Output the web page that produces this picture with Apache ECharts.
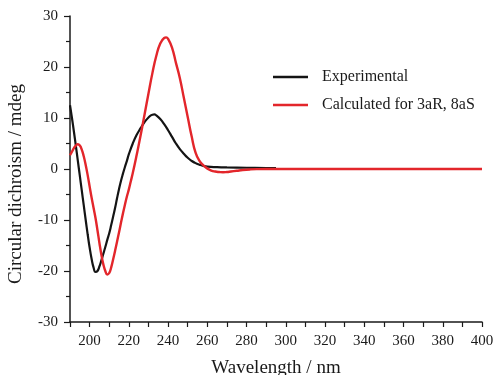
<!DOCTYPE html>
<html>
<head>
<meta charset="utf-8">
<script src="https://cdn.jsdelivr.net/npm/echarts@6/dist/echarts.min.js"></script>
<style>
html,body{margin:0;padding:0;background:#fff;}
#chart{width:496px;height:375px;}
</style>
</head>
<body>
<div id="chart"></div>
<script>
var seriesNames = ['Experimental', 'Calculated for 3aR, 8aS'];

var expWavelength = [190,191,192,193,194,195,196,197,198,199,200,201,202,203,204,205,206,207,208,209,210,211,212,213,214,215,216,217,218,219,220,222,224,226,228,230,232,233,234,236,238,240,242,244,246,248,250,252,254,256,258,260,265,270,280,290,295];
var expValues = [12.5,10.0,7.3,4.5,1.6,-1.3,-4.2,-7.1,-10.0,-12.8,-15.4,-17.6,-19.3,-20.2,-20.0,-19.1,-17.9,-16.6,-15.3,-13.9,-12.6,-11.0,-9.3,-7.6,-5.7,-3.9,-2.3,-0.9,0.4,1.6,2.9,5.0,6.7,8.0,9.2,10.1,10.65,10.7,10.5,9.8,8.8,7.6,6.3,5.0,3.9,3.0,2.2,1.6,1.15,0.85,0.6,0.45,0.35,0.3,0.25,0.2,0.2];

var calcWavelength = [190,191,192,193,194,195,196,197,198,199,200,201,202,203,204,205,206,207,208,209,210,211,212,213,214,215,216,217,218,219,220,221,222,224,226,228,230,232,234,236,238,239,240,242,244,246,248,250,252,254,256,258,260,262,264,266,268,270,272,275,278,282,286,290,300,350,400];
var calcValues = [2.7,3.4,4.1,4.6,4.85,4.6,3.8,2.5,0.8,-1.2,-3.4,-5.6,-7.6,-9.6,-12.0,-14.5,-16.8,-18.7,-20.0,-20.7,-20.4,-19.3,-17.7,-16.0,-14.2,-12.4,-10.5,-8.7,-7.0,-5.4,-4.0,-2.4,-0.8,2.8,6.6,10.7,14.8,18.8,22.2,24.6,25.7,25.8,25.5,23.8,20.8,17.8,14.0,10.2,6.4,3.2,1.6,0.7,0.1,-0.3,-0.5,-0.6,-0.65,-0.6,-0.5,-0.35,-0.2,-0.08,-0.02,0,0,0,0];

var xAxisName = 'Wavelength / nm';
var yAxisName = 'Circular dichroism / mdeg';

function pairs(xs, ys){ return xs.map(function(x,i){ return [x, ys[i]]; }); }

var font = '"Liberation Serif", "Times New Roman", serif';
var chart = echarts.init(document.getElementById('chart'), null, {renderer:'canvas'});
chart.setOption({
  backgroundColor: '#ffffff',
  animation: false,
  textStyle: {fontFamily: font, color: '#1a1a1a'},
  grid: {left: 70, right: 14, top: 16, bottom: 53, containLabel: false, outerBoundsMode: 'none'},
  legend: {
    orient: 'vertical',
    left: 268, top: 64,
    icon: 'rect',
    itemWidth: 35, itemHeight: 2.5, itemGap: 12,
    textStyle: {fontFamily: font, fontSize: 16, color: '#1a1a1a', padding: [0,0,0,9]},
    data: seriesNames
  },
  xAxis: {
    type: 'value', min: 190, max: 400, interval: 10,
    name: xAxisName, nameLocation: 'middle', nameGap: 37,
    nameTextStyle: {fontFamily: font, fontSize: 19, color: '#1a1a1a'},
    axisLine: {show: true, onZero: false, lineStyle: {color: '#1a1a1a', width: 1.5}},
    axisTick: {show: true, inside: false, length: 5, lineStyle: {color: '#1a1a1a', width: 1.2}},
    axisLabel: {fontFamily: font, fontSize: 15, color: '#1a1a1a', margin: 12,
      formatter: function(v){ return v % 20 === 0 ? String(v) : ''; }},
    splitLine: {show: false}
  },
  yAxis: {
    type: 'value', min: -30, max: 30, interval: 10,
    name: yAxisName, nameLocation: 'middle', nameGap: 44, nameRotate: 90,
    nameTextStyle: {fontFamily: font, fontSize: 19, color: '#1a1a1a', padding: [0,30,0,0]},
    axisLine: {show: true, onZero: false, lineStyle: {color: '#1a1a1a', width: 1.5}},
    axisTick: {show: true, inside: false, length: 6, lineStyle: {color: '#1a1a1a', width: 1.2}},
    minorTick: {show: true, splitNumber: 2, length: 4, lineStyle: {color: '#1a1a1a', width: 1.2}},
    axisLabel: {fontFamily: font, fontSize: 15, color: '#1a1a1a', margin: 12},
    splitLine: {show: false}
  },
  series: [
    {
      name: seriesNames[0], type: 'line', data: pairs(expWavelength, expValues),
      smooth: true, symbol: 'none', showSymbol: false,
      lineStyle: {color: '#141414', width: 2.2},
      itemStyle: {color: '#141414'}
    },
    {
      name: seriesNames[1], type: 'line', data: pairs(calcWavelength, calcValues),
      smooth: true, symbol: 'none', showSymbol: false,
      lineStyle: {color: '#e3262b', width: 2.4},
      itemStyle: {color: '#e3262b'}
    }
  ]
});
</script>
</body>
</html>
